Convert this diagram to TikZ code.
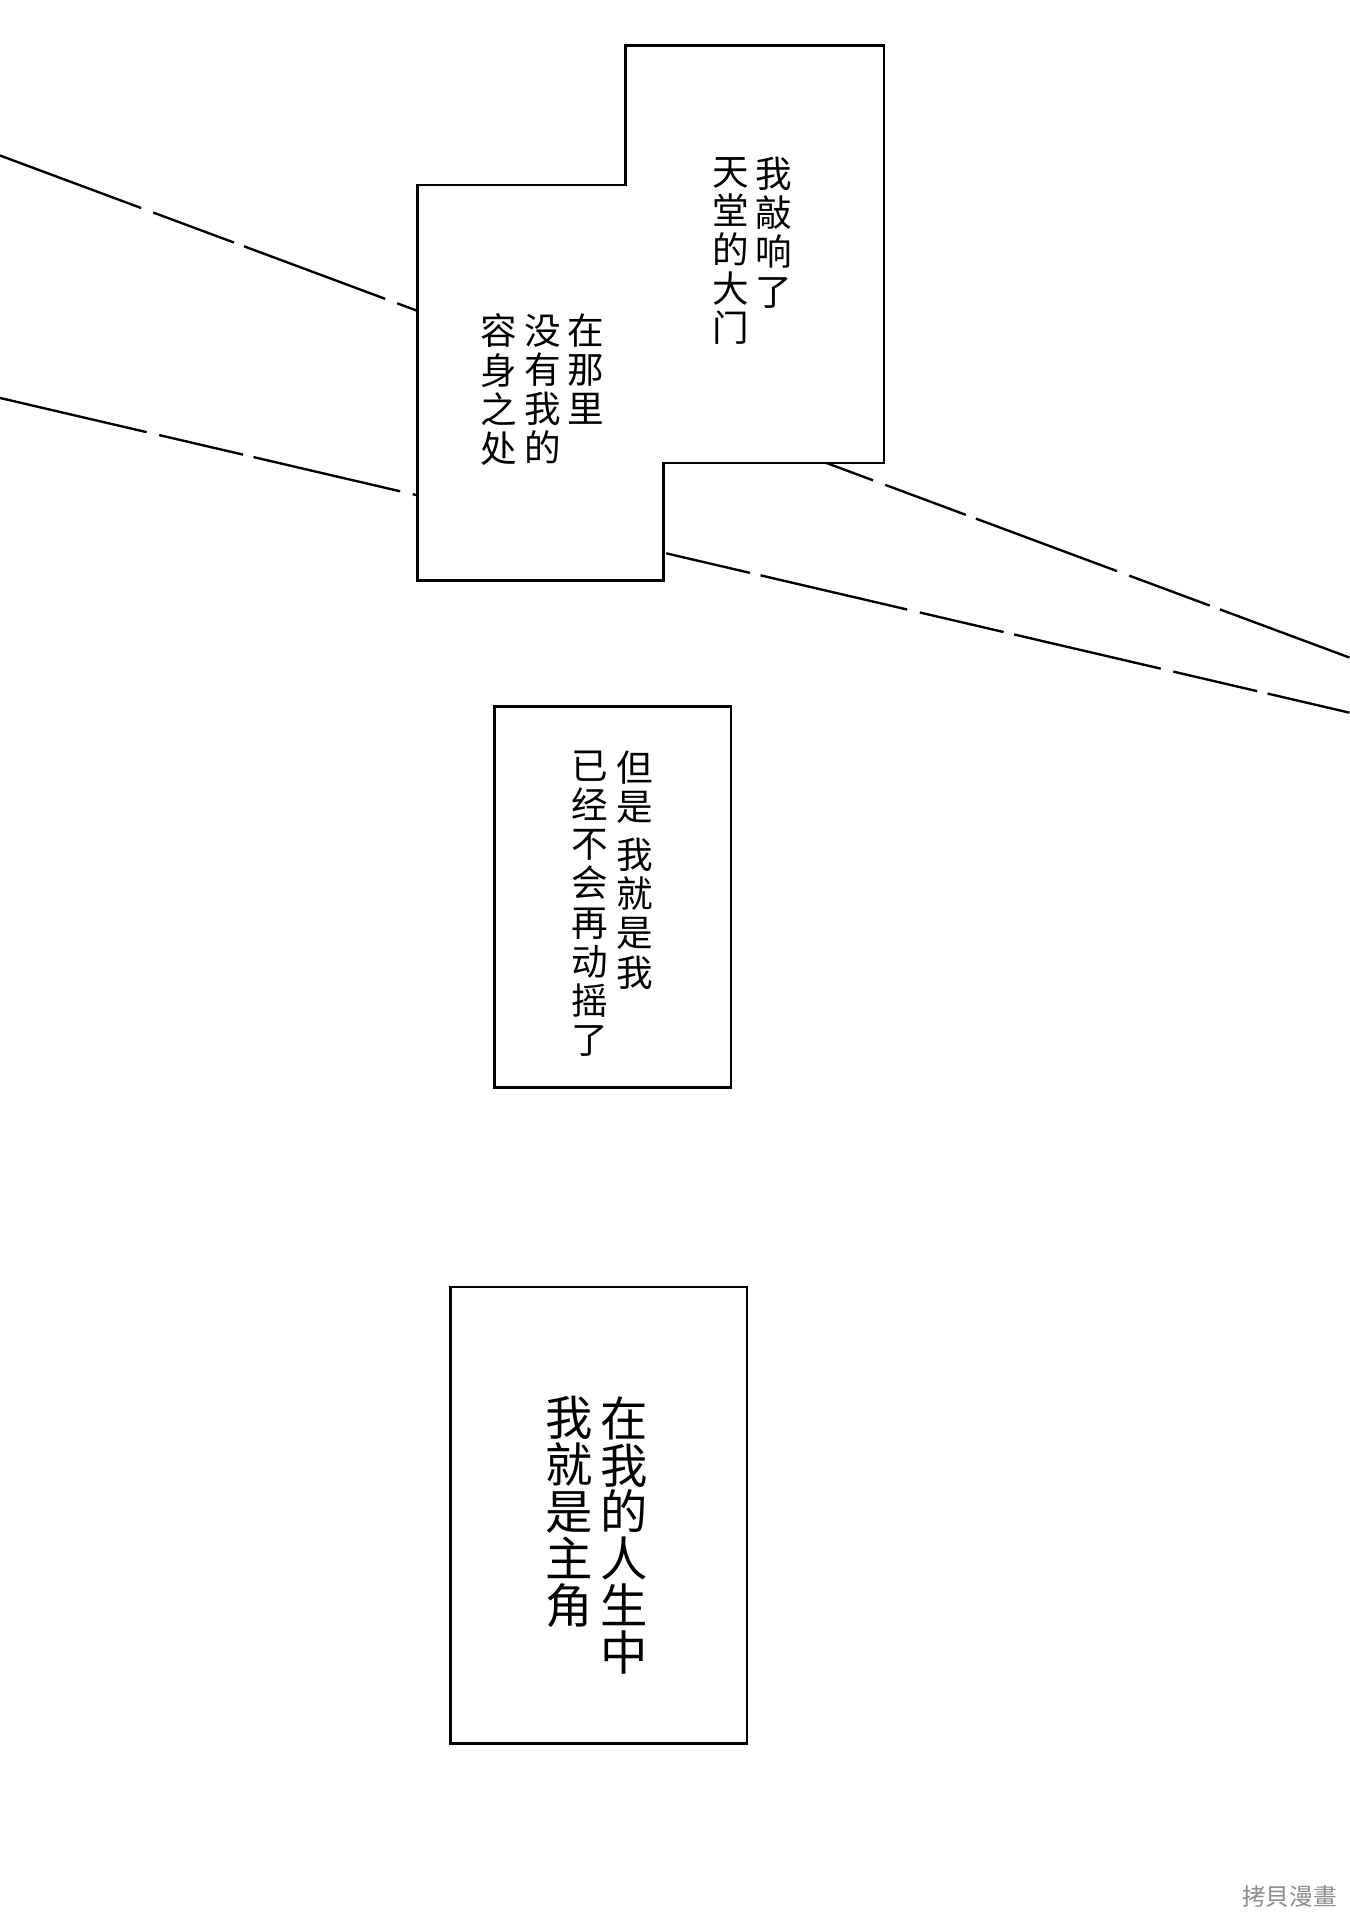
\documentclass[tikz,border=0pt]{standalone}
\usepackage{fontspec}
\newfontfamily\cjk{Noto Sans CJK SC}
\begin{document}
\begin{tikzpicture}[x=0.02cm,y=-0.02cm,
    panel/.style={draw, line width=1.2pt, fill=white},
    col/.style={anchor=north, align=center, inner sep=0pt, font=\cjk\fontsize{17}{18.2}\selectfont},
    bigcol/.style={anchor=north, align=center, inner sep=0pt, font=\cjk\fontsize{22}{21.8}\selectfont},
    speed/.style={line width=1.1pt, dash pattern=on 70pt off 6pt on 40pt off 5pt}
]
\useasboundingbox (0,0) rectangle (1102,1568);

% speed lines
\coordinate (l1a) at (0,127);
\coordinate (l1b) at (1102,537);
\coordinate (l2a) at (0,325);
\coordinate (l2b) at (1102,582);
\draw[speed] (l1a) -- (l1b);
\draw[speed] (l2a) -- (l2b);

% first panel
\draw[panel] (511,37) -- (722,37) -- (722,378) -- (542,378) -- (542,474)
    -- (341,474) -- (341,151) -- (511,151) -- cycle;
\node[col] (t1) at (632,128) {我\\敲\\响\\了};
\node[col] (t2) at (597,128) {天\\堂\\的\\大\\门};
\node[col] (t3) at (478,256) {在\\那\\里};
\node[col] (t4) at (443,256) {没\\有\\我\\的};
\node[col] (t5) at (407,256) {容\\身\\之\\处};

% second panel
\draw[panel] (404,577) rectangle (597,888);
\node[col] (u1) at (518,613) {但\\是\\[4pt]我\\就\\是\\我};
\node[col] (u2) at (482,613) {已\\经\\不\\会\\再\\动\\摇\\了};

% third panel
\draw[panel] (368,1051) rectangle (610,1424);
\node[bigcol] (v1) at (510,1140) {在\\我\\的\\人\\生\\中};
\node[bigcol] (v2) at (465,1140) {我\\就\\是\\主\\角};

\node[font=\cjk\fontsize{11}{12}\selectfont, text=black!45, anchor=south east] (wm) at (1098,1564) {拷貝漫畫};
\end{tikzpicture}
\end{document}
